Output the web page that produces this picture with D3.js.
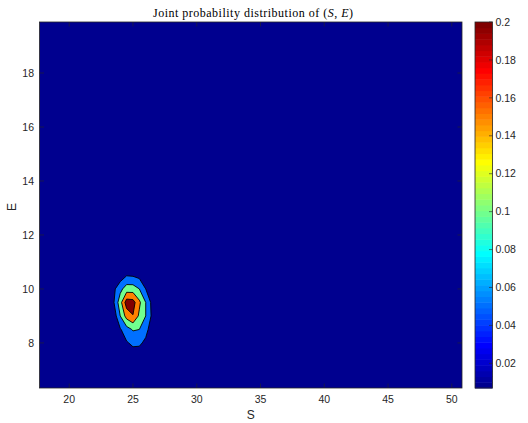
<!DOCTYPE html>
<html>
<head>
<meta charset="utf-8">
<script src="https://cdn.jsdelivr.net/npm/d3@7"></script>
<style>
  html, body { margin: 0; padding: 0; background: #ffffff; }
  svg { display: block; }
</style>
</head>
<body>
<svg id="chart" width="528" height="423"></svg>
<script>
// ---------------- data ----------------
const sValues = [23.0, 23.5, 24.0, 24.5, 25.0, 25.5, 26.0, 26.5, 27.0];   // grid columns (S)
const eValues = [7.5, 8.0, 8.5, 9.0, 9.5, 10.0, 10.5, 11.0];               // grid rows (E)
// joint probability P(S,E); one row per E value (ascending), one entry per S value
const probRows = [
  [0.000, 0.002, 0.008, 0.020, 0.025, 0.025, 0.015, 0.005, 0.000], // E = 7.5
  [0.000, 0.005, 0.020, 0.045, 0.060, 0.058, 0.040, 0.015, 0.002], // E = 8.0
  [0.005, 0.015, 0.045, 0.080, 0.105, 0.100, 0.065, 0.025, 0.005], // E = 8.5
  [0.010, 0.020, 0.100, 0.170, 0.198, 0.140, 0.100, 0.040, 0.010], // E = 9.0
  [0.020, 0.048, 0.130, 0.225, 0.220, 0.160, 0.100, 0.035, 0.010], // E = 9.5
  [0.010, 0.040, 0.085, 0.125, 0.125, 0.100, 0.050, 0.020, 0.005], // E = 10.0
  [0.000, 0.005, 0.020, 0.048, 0.045, 0.035, 0.020, 0.005, 0.000], // E = 10.5
  [0.000, 0.000, 0.005, 0.010, 0.010, 0.008, 0.004, 0.000, 0.000]  // E = 11.0
];
const contourLevels = [0.05, 0.10, 0.15, 0.20];
const colorLimits = [0.007, 0.2];
const xTicks = [20, 25, 30, 35, 40, 45, 50];
const yTicks = [8, 10, 12, 14, 16, 18];
const cbTicks = [0.02, 0.04, 0.06, 0.08, 0.1, 0.12, 0.14, 0.16, 0.18, 0.2];
const xDomain = [17.67, 50.8];
const yDomain = [6.33, 19.89];
const titleText = "Joint probability distribution of ";

// ---------------- jet(64) colormap ----------------
function jetU(k) { // MATLAB jet helper (1-based)
  if (k < 1 || k > 47) return 0;
  if (k <= 16) return k / 16;
  if (k <= 31) return 1;
  return (48 - k) / 16;
}
function jetIndexColor(i) { // i: 1..64
  const r = jetU(i - 24), g = jetU(i - 8), b = jetU(i + 8);
  return d3.rgb(Math.round(r * 255), Math.round(g * 255), Math.round(b * 255)).formatHex();
}
function jet(v) {
  const t = (v - colorLimits[0]) / (colorLimits[1] - colorLimits[0]);
  let idx = Math.floor(t * 64) + 1;
  idx = Math.max(1, Math.min(64, idx));
  return jetIndexColor(idx);
}

// ---------------- layout ----------------
const svg = d3.select("#chart");
const plot = { left: 39.5, right: 462, top: 22, bottom: 388 };
const cb = { left: 475, right: 492.5, top: 22, bottom: 388 };
const axisColor = "#262626";
const font = "'Liberation Sans', Arial, Helvetica, sans-serif";

const x = d3.scaleLinear().domain(xDomain).range([plot.left, plot.right]);
const y = d3.scaleLinear().domain(yDomain).range([plot.bottom, plot.top]);

// background = lowest colour
svg.append("rect")
  .attr("x", plot.left).attr("y", plot.top)
  .attr("width", plot.right - plot.left).attr("height", plot.bottom - plot.top)
  .attr("fill", jet(colorLimits[0]));

// contours
const nx = sValues.length, ny = eValues.length;
const flat = [];
probRows.forEach(row => row.forEach(v => flat.push(v)));
const dS = sValues[1] - sValues[0], dE = eValues[1] - eValues[0];
const contours = d3.contours().size([nx, ny]).thresholds(contourLevels)(flat);
const proj = d3.geoTransform({
  point: function(px, py) {
    this.stream.point(x(sValues[0] + (px - 0.5) * dS), y(eValues[0] + (py - 0.5) * dE));
  }
});
const path = d3.geoPath(proj);
const gC = svg.append("g");
gC.selectAll("path").data(contours).join("path")
  .attr("d", path)
  .attr("fill", d => jet(d.value))
  .attr("stroke", "#000")
  .attr("stroke-width", 0.9)
  .attr("stroke-linejoin", "round");

// axes box + ticks (inward, all four sides)
const gAx = svg.append("g");
const tl = 4.5;
xTicks.forEach(t => {
  gAx.append("line").attr("x1", x(t)).attr("x2", x(t)).attr("y1", plot.bottom).attr("y2", plot.bottom - tl)
    .attr("stroke", axisColor).attr("stroke-width", 0.6);
  gAx.append("line").attr("x1", x(t)).attr("x2", x(t)).attr("y1", plot.top).attr("y2", plot.top + tl)
    .attr("stroke", axisColor).attr("stroke-width", 0.6);
  gAx.append("text").attr("x", x(t)).attr("y", 403).attr("text-anchor", "middle")
    .attr("font-family", font).attr("font-size", 10.5).attr("fill", axisColor).text(t);
});
yTicks.forEach(t => {
  gAx.append("line").attr("x1", plot.left).attr("x2", plot.left + tl).attr("y1", y(t)).attr("y2", y(t))
    .attr("stroke", axisColor).attr("stroke-width", 0.6);
  gAx.append("line").attr("x1", plot.right).attr("x2", plot.right - tl).attr("y1", y(t)).attr("y2", y(t))
    .attr("stroke", axisColor).attr("stroke-width", 0.6);
  gAx.append("text").attr("x", 34).attr("y", y(t)).attr("dy", "0.35em").attr("text-anchor", "end")
    .attr("font-family", font).attr("font-size", 10.5).attr("fill", axisColor).text(t);
});
gAx.append("rect")
  .attr("x", plot.left).attr("y", plot.top)
  .attr("width", plot.right - plot.left).attr("height", plot.bottom - plot.top)
  .attr("fill", "none").attr("stroke", axisColor).attr("stroke-width", 0.8);

// axis labels
svg.append("text").attr("x", (plot.left + plot.right) / 2).attr("y", 419).attr("text-anchor", "middle")
  .attr("font-family", font).attr("font-size", 12).attr("fill", axisColor).text("S");
svg.append("text").attr("transform", `translate(16,207) rotate(-90)`)
  .attr("text-anchor", "middle")
  .attr("font-family", font).attr("font-size", 12).attr("fill", axisColor).text("E");

// title
const title = svg.append("text").attr("x", 153).attr("y", 17)
  .attr("font-family", "'Liberation Serif', 'Times New Roman', serif")
  .attr("font-size", 12).attr("fill", "#000")
  .attr("textLength", 200).attr("lengthAdjust", "spacing");
title.append("tspan").text(titleText + "(");
title.append("tspan").attr("font-style", "italic").text("S");
title.append("tspan").text(", ");
title.append("tspan").attr("font-style", "italic").text("E");
title.append("tspan").text(")");

// colorbar
const cy = d3.scaleLinear().domain(colorLimits).range([cb.bottom, cb.top]);
const gCb = svg.append("g");
for (let i = 1; i <= 64; i++) {
  const v0 = colorLimits[0] + (i - 1) / 64 * (colorLimits[1] - colorLimits[0]);
  const v1 = colorLimits[0] + i / 64 * (colorLimits[1] - colorLimits[0]);
  gCb.append("rect").attr("x", cb.left).attr("width", cb.right - cb.left)
    .attr("y", cy(v1)).attr("height", cy(v0) - cy(v1) + 0.5)
    .attr("fill", jetIndexColor(i));
}
cbTicks.forEach(t => {
  gCb.append("line").attr("x1", cb.right).attr("x2", cb.right - 3.5).attr("y1", cy(t)).attr("y2", cy(t))
    .attr("stroke", axisColor).attr("stroke-width", 0.6);
  gCb.append("text").attr("x", 495.5).attr("y", cy(t)).attr("dy", "0.35em")
    .attr("font-family", font).attr("font-size", 10.5).attr("fill", axisColor).text(t);
});
gCb.append("rect").attr("x", cb.left).attr("y", cb.top)
  .attr("width", cb.right - cb.left).attr("height", cb.bottom - cb.top)
  .attr("fill", "none").attr("stroke", axisColor).attr("stroke-width", 0.8);
</script>
</body>
</html>
